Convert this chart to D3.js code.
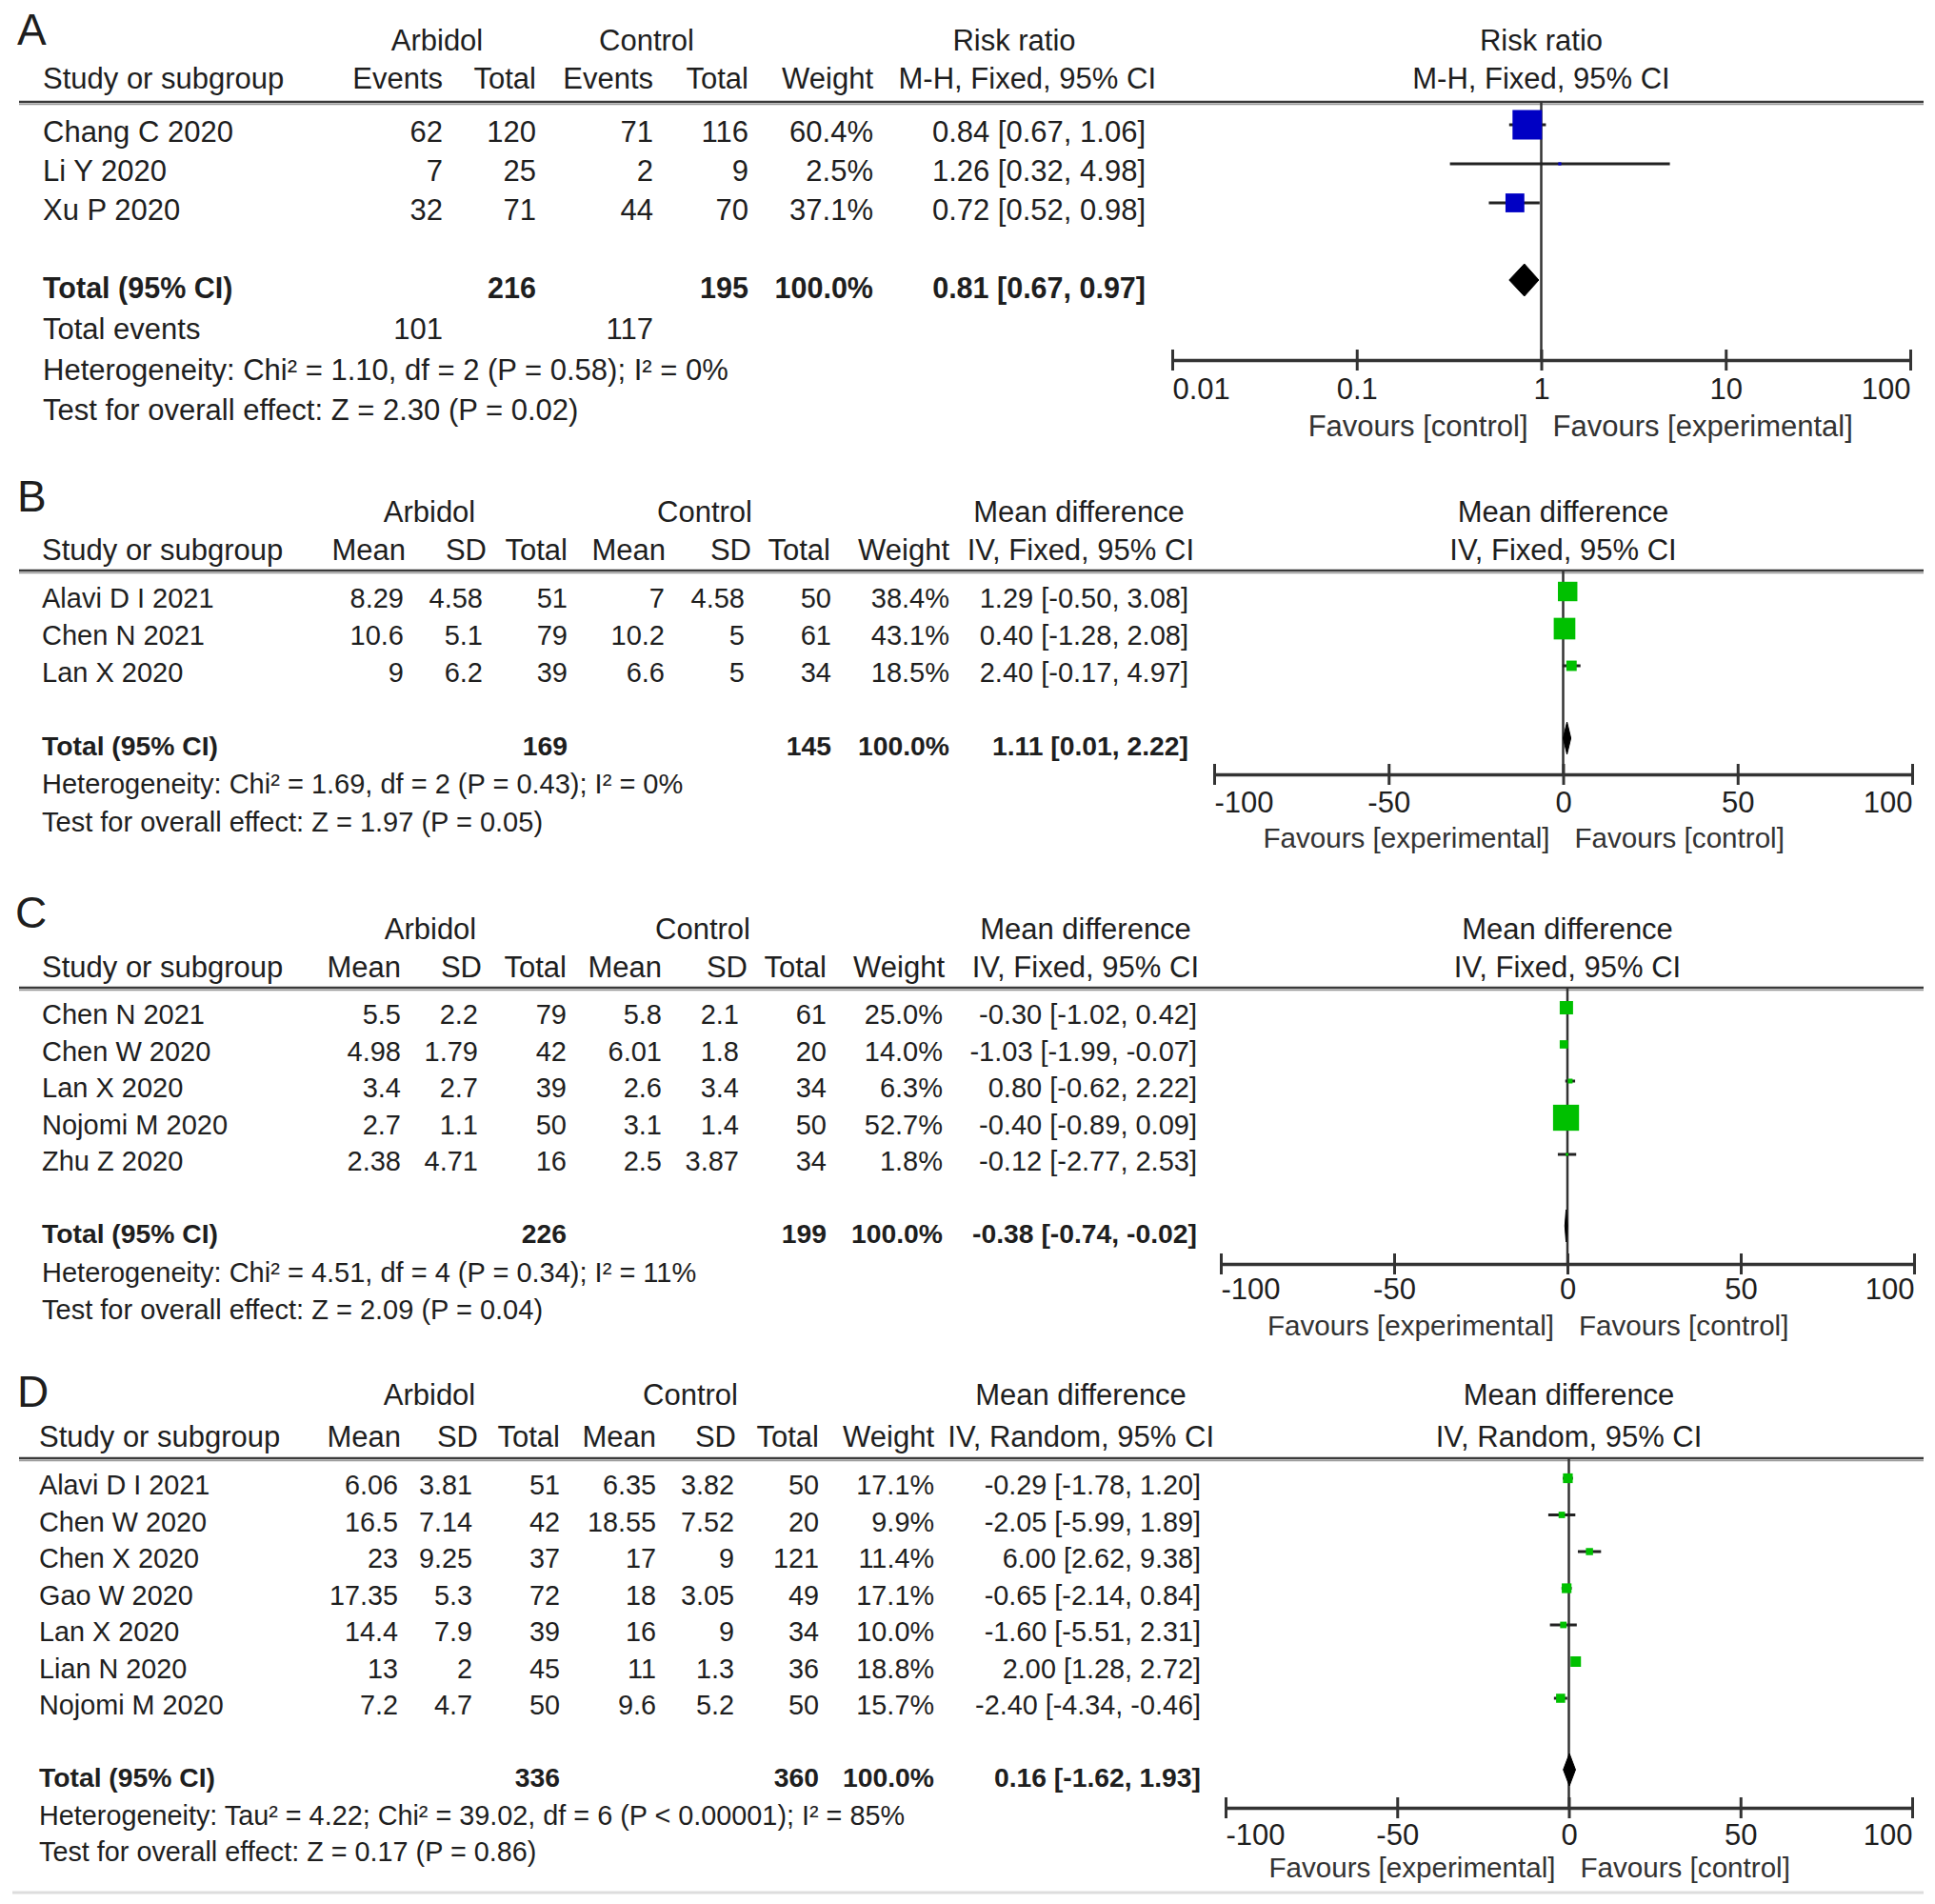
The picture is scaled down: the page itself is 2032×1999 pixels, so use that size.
<!DOCTYPE html>
<html>
<head>
<meta charset="utf-8">
<script src="https://cdnjs.cloudflare.com/ajax/libs/d3/7.8.5/d3.min.js"></script>
<style>
  body { margin: 0; background: #fff; }
  text { font-family: "Liberation Sans", Arial, sans-serif; fill: #1e1e1e; font-size: 31px; }
</style>
</head>
<body>
<svg id="chart" width="2032" height="1999"></svg>
<script>
// ---------- Panel A : risk ratio ----------
var studiesA = ["Chang C 2020", "Li Y 2020", "Xu P 2020"];
var eventsArbA = [62, 7, 32];
var totalArbA = [120, 25, 71];
var eventsCtlA = [71, 2, 44];
var totalCtlA = [116, 9, 70];
var weightA = [60.4, 2.5, 37.1];
var rrA = [0.84, 1.26, 0.72];
var lowA = [0.67, 0.32, 0.52];
var highA = [1.06, 4.98, 0.98];
var pooledA = [0.81, 0.67, 0.97];
var sumsA = [216, 195];
var totalEventsA = [101, 117];
var hetA = "Heterogeneity: Chi\u00b2 = 1.10, df = 2 (P = 0.58); I\u00b2 = 0%";
var testA = "Test for overall effect: Z = 2.30 (P = 0.02)";

// ---------- Panel B : mean difference ----------
var studiesB = ["Alavi D I 2021", "Chen N 2021", "Lan X 2020"];
var meanArbB = [8.29, 10.6, 9];
var sdArbB = [4.58, 5.1, 6.2];
var nArbB = [51, 79, 39];
var meanCtlB = [7, 10.2, 6.6];
var sdCtlB = [4.58, 5, 5];
var nCtlB = [50, 61, 34];
var weightB = [38.4, 43.1, 18.5];
var mdB = [1.29, 0.40, 2.40];
var lowB = [-0.50, -1.28, -0.17];
var highB = [3.08, 2.08, 4.97];
var pooledB = [1.11, 0.01, 2.22];
var sumsB = [169, 145];
var hetB = "Heterogeneity: Chi\u00b2 = 1.69, df = 2 (P = 0.43); I\u00b2 = 0%";
var testB = "Test for overall effect: Z = 1.97 (P = 0.05)";

// ---------- Panel C ----------
var studiesC = ["Chen N 2021", "Chen W 2020", "Lan X 2020", "Nojomi M 2020", "Zhu Z 2020"];
var meanArbC = [5.5, 4.98, 3.4, 2.7, 2.38];
var sdArbC = [2.2, 1.79, 2.7, 1.1, 4.71];
var nArbC = [79, 42, 39, 50, 16];
var meanCtlC = [5.8, 6.01, 2.6, 3.1, 2.5];
var sdCtlC = [2.1, 1.8, 3.4, 1.4, 3.87];
var nCtlC = [61, 20, 34, 50, 34];
var weightC = [25.0, 14.0, 6.3, 52.7, 1.8];
var mdC = [-0.30, -1.03, 0.80, -0.40, -0.12];
var lowC = [-1.02, -1.99, -0.62, -0.89, -2.77];
var highC = [0.42, -0.07, 2.22, 0.09, 2.53];
var pooledC = [-0.38, -0.74, -0.02];
var sumsC = [226, 199];
var hetC = "Heterogeneity: Chi\u00b2 = 4.51, df = 4 (P = 0.34); I\u00b2 = 11%";
var testC = "Test for overall effect: Z = 2.09 (P = 0.04)";

// ---------- Panel D ----------
var studiesD = ["Alavi D I 2021", "Chen W 2020", "Chen X 2020", "Gao W 2020", "Lan X 2020", "Lian N 2020", "Nojomi M 2020"];
var meanArbD = [6.06, 16.5, 23, 17.35, 14.4, 13, 7.2];
var sdArbD = [3.81, 7.14, 9.25, 5.3, 7.9, 2, 4.7];
var nArbD = [51, 42, 37, 72, 39, 45, 50];
var meanCtlD = [6.35, 18.55, 17, 18, 16, 11, 9.6];
var sdCtlD = [3.82, 7.52, 9, 3.05, 9, 1.3, 5.2];
var nCtlD = [50, 20, 121, 49, 34, 36, 50];
var weightD = [17.1, 9.9, 11.4, 17.1, 10.0, 18.8, 15.7];
var mdD = [-0.29, -2.05, 6.00, -0.65, -1.60, 2.00, -2.40];
var lowD = [-1.78, -5.99, 2.62, -2.14, -5.51, 1.28, -4.34];
var highD = [1.20, 1.89, 9.38, 0.84, 2.31, 2.72, -0.46];
var pooledD = [0.16, -1.62, 1.93];
var sumsD = [336, 360];
var hetD = "Heterogeneity: Tau\u00b2 = 4.22; Chi\u00b2 = 39.02, df = 6 (P < 0.00001); I\u00b2 = 85%";
var testD = "Test for overall effect: Z = 0.17 (P = 0.86)";

var ticksRR = [0.01, 0.1, 1, 10, 100];
var ticksMD = [-100, -50, 0, 50, 100];

var svg = d3.select("#chart");
svg.append("rect").attr("width", 2032).attr("height", 1999).attr("fill", "#fff");

function ci(est, lo, hi) {
  return est.toFixed(2) + " [" + lo.toFixed(2) + ", " + hi.toFixed(2) + "]";
}
function pct(w) { return w.toFixed(1) + "%"; }

function drawPanel(p) {
  var g = svg.append("g");
  var body = p.bodySize + "px", bold = p.boldSize + "px";

  // panel letter
  g.append("text").attr("x", p.letterX).attr("y", p.letterY).attr("dy", "0.35em")
    .style("font-size", "46px").text(p.letter);

  // header line 1 (group labels)
  p.head1.forEach(function (h) {
    g.append("text").attr("x", h[1]).attr("y", p.h1Y).attr("dy", "0.35em")
      .attr("text-anchor", "middle").text(h[0]);
  });
  // header line 2
  g.append("text").attr("x", p.studyX).attr("y", p.h2Y).attr("dy", "0.35em").text("Study or subgroup");
  p.head2.forEach(function (h, j) {
    g.append("text").attr("x", p.headX[j]).attr("y", p.h2Y).attr("dy", "0.35em")
      .attr("text-anchor", "end").text(h);
  });

  // plot scale
  var x = p.log
    ? d3.scaleLog().domain([0.01, 100]).range([p.x0, p.x1])
    : d3.scaleLinear().domain([-100, 100]).range([p.x0, p.x1]);
  var mid = x(p.log ? 1 : 0);

  g.append("text").attr("x", mid).attr("y", p.h1Y).attr("dy", "0.35em")
    .attr("text-anchor", "middle").text(p.plotHead1);
  g.append("text").attr("x", mid).attr("y", p.h2Y).attr("dy", "0.35em")
    .attr("text-anchor", "middle").text(p.plotHead2);

  // heavy rule under the header
  g.append("line").attr("x1", 20).attr("x2", 2020).attr("y1", p.lineY).attr("y2", p.lineY)
    .attr("stroke", "#3a3a3a").attr("stroke-width", 2.5);
  g.append("line").attr("x1", 20).attr("x2", 2020).attr("y1", p.lineY + 2.5).attr("y2", p.lineY + 2.5)
    .attr("stroke", "#9a9a9a").attr("stroke-width", 1.5);

  // study rows
  var n = p.studies.length;
  function rowY(i) { return p.row0 + i * p.step; }
  for (var i = 0; i < n; i++) {
    g.append("text").attr("x", p.studyX).attr("y", rowY(i)).attr("dy", "0.35em")
      .style("font-size", body).text(p.studies[i]);
    p.cells(i).forEach(function (c, j) {
      g.append("text").attr("x", p.valX[j]).attr("y", rowY(i)).attr("dy", "0.35em")
        .attr("text-anchor", "end").style("font-size", body).text(c);
    });
  }

  // total row
  g.append("text").attr("x", p.studyX).attr("y", p.totalY).attr("dy", "0.35em")
    .style("font-weight", "bold").style("font-size", bold).text("Total (95% CI)");
  p.totalCells.forEach(function (c, j) {
    if (c === "") return;
    g.append("text").attr("x", p.valX[j]).attr("y", p.totalY).attr("dy", "0.35em")
      .attr("text-anchor", "end").style("font-weight", "bold").style("font-size", bold).text(c);
  });

  if (p.eventsCells) {
    g.append("text").attr("x", p.studyX).attr("y", p.eventsY).attr("dy", "0.35em")
      .style("font-size", body).text("Total events");
    p.eventsCells.forEach(function (c, j) {
      if (c === "") return;
      g.append("text").attr("x", p.valX[j]).attr("y", p.eventsY).attr("dy", "0.35em")
        .attr("text-anchor", "end").style("font-size", body).text(c);
    });
  }
  g.append("text").attr("x", p.studyX).attr("y", p.hetY).attr("dy", "0.35em")
    .style("font-size", body).text(p.het);
  g.append("text").attr("x", p.studyX).attr("y", p.testY).attr("dy", "0.35em")
    .style("font-size", body).text(p.test);

  // reference line
  g.append("line").attr("x1", mid).attr("x2", mid).attr("y1", p.lineY).attr("y2", p.axisY)
    .attr("stroke", "#333").attr("stroke-width", 2.5);

  // confidence intervals and weight squares
  var size = d3.scaleLinear().domain([0, 100]).range([2, 50]);
  for (var k = 0; k < n; k++) {
    var cy = rowY(k) - 7;
    g.append("line").attr("x1", x(p.low[k])).attr("x2", x(p.high[k]))
      .attr("y1", cy).attr("y2", cy).attr("stroke", "#222").attr("stroke-width", 3);
    var s = size(p.weight[k]);
    g.append("rect").attr("x", x(p.est[k]) - s / 2).attr("y", cy - s / 2)
      .attr("width", s).attr("height", s).attr("fill", p.color);
  }

  // pooled diamond
  var dy0 = p.totalY - 8, dh = 17;
  var pts = [[x(p.pooled[1]), dy0], [x(p.pooled[0]), dy0 - dh], [x(p.pooled[2]), dy0], [x(p.pooled[0]), dy0 + dh]];
  g.append("path").attr("d", d3.line()(pts) + "Z").attr("fill", "#000").attr("stroke", "#000").attr("stroke-width", 1);

  // axis
  var ticks = p.log ? ticksRR : ticksMD;
  var ax = g.append("g").attr("transform", "translate(0," + p.axisY + ")")
    .call(d3.axisBottom(x).tickValues(ticks).tickSize(11).tickSizeOuter(0)
      .tickFormat(function (d) { return String(d); }));
  ax.attr("font-family", null).attr("font-size", null);
  ax.select(".domain").attr("stroke", "#333").attr("stroke-width", 3.5);
  ax.selectAll(".tick line").attr("y1", -11).attr("y2", 11).attr("stroke", "#333").attr("stroke-width", 3);
  ax.selectAll(".tick text")
    .attr("y", p.tickY - p.axisY).attr("dy", "0.35em").attr("fill", "#1e1e1e")
    .attr("text-anchor", function (d, i) { return i === 0 ? "start" : (i === ticks.length - 1 ? "end" : "middle"); });

  g.append("text").attr("x", mid - 14).attr("y", p.favY).attr("dy", "0.35em")
    .attr("text-anchor", "end").style("fill", "#333").style("font-size", p.favSize + "px").text(p.favLeft);
  g.append("text").attr("x", mid + 12).attr("y", p.favY).attr("dy", "0.35em")
    .style("fill", "#333").style("font-size", p.favSize + "px").text(p.favRight);
}

// Panel A
drawPanel({
  letter: "A", letterX: 18, letterY: 31,
  bodySize: 31, boldSize: 30.5, favSize: 31,
  h1Y: 42, h2Y: 82, lineY: 107, row0: 138, step: 41,
  totalY: 302, eventsY: 345, hetY: 388, testY: 430,
  studyX: 45, log: true, x0: 1231, x1: 2006, axisY: 378, tickY: 408, favY: 447,
  head1: [["Arbidol", 459], ["Control", 679], ["Risk ratio", 1065]],
  head2: ["Events", "Total", "Events", "Total", "Weight", "M-H, Fixed, 95% CI"],
  headX: [465, 563, 686, 786, 917, 1214],
  valX: [465, 563, 686, 786, 917, 1203],
  plotHead1: "Risk ratio", plotHead2: "M-H, Fixed, 95% CI",
  studies: studiesA,
  cells: function (i) {
    return [eventsArbA[i], totalArbA[i], eventsCtlA[i], totalCtlA[i], pct(weightA[i]), ci(rrA[i], lowA[i], highA[i])].map(String);
  },
  totalCells: ["", String(sumsA[0]), "", String(sumsA[1]), "100.0%", ci(pooledA[0], pooledA[1], pooledA[2])],
  eventsCells: [String(totalEventsA[0]), "", String(totalEventsA[1]), "", "", ""],
  het: hetA, test: testA,
  est: rrA, low: lowA, high: highA, weight: weightA, pooled: pooledA, color: "#0000c4",
  favLeft: "Favours [control]", favRight: "Favours [experimental]"
});

function mdCells(mA, sA, nA, mC, sC, nC, w, md, lo, hi) {
  return function (i) {
    return [String(mA[i]), String(sA[i]), String(nA[i]), String(mC[i]), String(sC[i]), String(nC[i]), pct(w[i]), ci(md[i], lo[i], hi[i])];
  };
}
var headMD = ["Mean", "SD", "Total", "Mean", "SD", "Total", "Weight"];

drawPanel({
  letter: "B", letterX: 18, letterY: 521,
  bodySize: 29, boldSize: 28.3, favSize: 29.6,
  h1Y: 537, h2Y: 577, lineY: 599, row0: 628, step: 39,
  totalY: 783, hetY: 823, testY: 863,
  studyX: 44, log: false, x0: 1275, x1: 2008, axisY: 813, tickY: 842, favY: 880,
  head1: [["Arbidol", 451], ["Control", 740], ["Mean difference", 1133]],
  head2: headMD.concat(["IV, Fixed, 95% CI"]),
  headX: [426, 511, 596, 699, 789, 872, 997, 1254],
  valX: [424, 507, 596, 698, 782, 873, 997, 1248],
  plotHead1: "Mean difference", plotHead2: "IV, Fixed, 95% CI",
  studies: studiesB,
  cells: mdCells(meanArbB, sdArbB, nArbB, meanCtlB, sdCtlB, nCtlB, weightB, mdB, lowB, highB),
  totalCells: ["", "", String(sumsB[0]), "", "", String(sumsB[1]), "100.0%", ci(pooledB[0], pooledB[1], pooledB[2])],
  het: hetB, test: testB,
  est: mdB, low: lowB, high: highB, weight: weightB, pooled: pooledB, color: "#00c000",
  favLeft: "Favours [experimental]", favRight: "Favours [control]"
});

drawPanel({
  letter: "C", letterX: 16, letterY: 958,
  bodySize: 29, boldSize: 28.3, favSize: 29.6,
  h1Y: 975, h2Y: 1015, lineY: 1037, row0: 1065, step: 38.5,
  totalY: 1295, hetY: 1336, testY: 1375,
  studyX: 44, log: false, x0: 1282, x1: 2010, axisY: 1327, tickY: 1353, favY: 1392,
  head1: [["Arbidol", 452], ["Control", 738], ["Mean difference", 1140]],
  head2: headMD.concat(["IV, Fixed, 95% CI"]),
  headX: [421, 506, 595, 695, 785, 868, 992, 1259],
  valX: [421, 502, 595, 695, 776, 868, 990, 1257],
  plotHead1: "Mean difference", plotHead2: "IV, Fixed, 95% CI",
  studies: studiesC,
  cells: mdCells(meanArbC, sdArbC, nArbC, meanCtlC, sdCtlC, nCtlC, weightC, mdC, lowC, highC),
  totalCells: ["", "", String(sumsC[0]), "", "", String(sumsC[1]), "100.0%", ci(pooledC[0], pooledC[1], pooledC[2])],
  het: hetC, test: testC,
  est: mdC, low: lowC, high: highC, weight: weightC, pooled: pooledC, color: "#00c000",
  favLeft: "Favours [experimental]", favRight: "Favours [control]"
});

drawPanel({
  letter: "D", letterX: 18, letterY: 1461,
  bodySize: 28.8, boldSize: 28.3, favSize: 29.6,
  h1Y: 1464, h2Y: 1508, lineY: 1531, row0: 1559, step: 38.5,
  totalY: 1866, hetY: 1906, testY: 1944,
  studyX: 41, log: false, x0: 1287, x1: 2008, axisY: 1898, tickY: 1926, favY: 1961,
  head1: [["Arbidol", 451], ["Control", 725], ["Mean difference", 1135]],
  head2: headMD.concat(["IV, Random, 95% CI"]),
  headX: [421, 502, 588, 689, 773, 860, 981, 1275],
  valX: [418, 496, 588, 689, 771, 860, 981, 1261],
  plotHead1: "Mean difference", plotHead2: "IV, Random, 95% CI",
  studies: studiesD,
  cells: mdCells(meanArbD, sdArbD, nArbD, meanCtlD, sdCtlD, nCtlD, weightD, mdD, lowD, highD),
  totalCells: ["", "", String(sumsD[0]), "", "", String(sumsD[1]), "100.0%", ci(pooledD[0], pooledD[1], pooledD[2])],
  het: hetD, test: testD,
  est: mdD, low: lowD, high: highD, weight: weightD, pooled: pooledD, color: "#00c000",
  favLeft: "Favours [experimental]", favRight: "Favours [control]"
});

// faint rule at the bottom of the figure
svg.append("line").attr("x1", 13).attr("x2", 2020).attr("y1", 1987).attr("y2", 1987)
  .attr("stroke", "#ddd").attr("stroke-width", 3);
</script>
</body>
</html>
